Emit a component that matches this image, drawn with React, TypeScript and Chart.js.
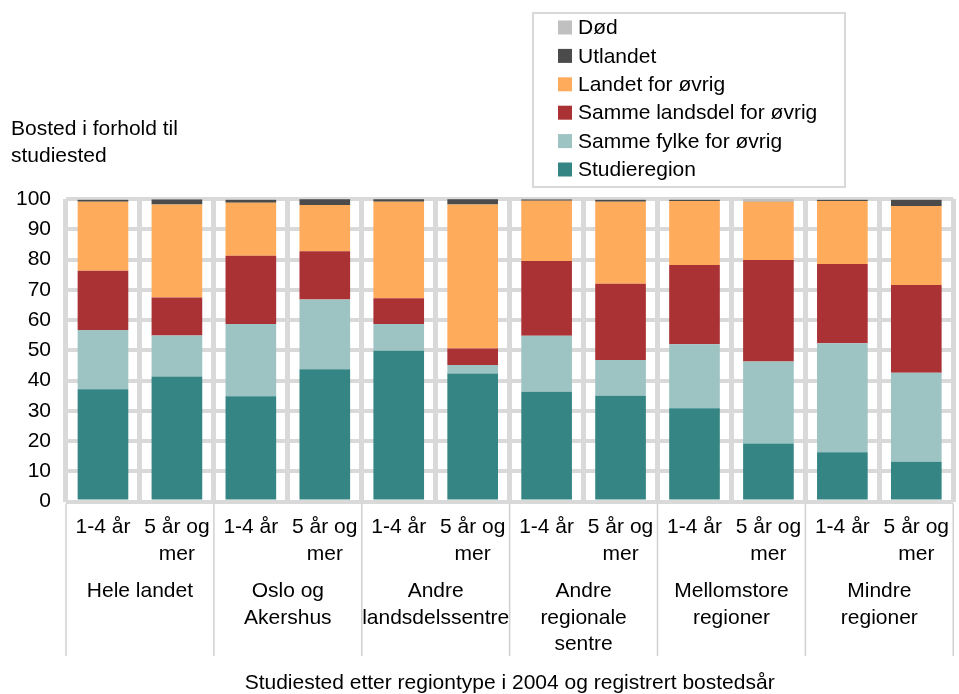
import { useEffect, useRef } from "react";
import { Chart, registerables } from "chart.js";

Chart.register(...registerables);

const FONT = "'Liberation Sans', Arial, sans-serif";

const subLabels: string[][] = [
  ["1-4 år"], ["5 år og", "mer"],
  ["1-4 år"], ["5 år og", "mer"],
  ["1-4 år"], ["5 år og", "mer"],
  ["1-4 år"], ["5 år og", "mer"],
  ["1-4 år"], ["5 år og", "mer"],
  ["1-4 år"], ["5 år og", "mer"],
];

const groupLabels: string[][] = [
  ["Hele landet"],
  ["Oslo og", "Akershus"],
  ["Andre", "landsdelssentre"],
  ["Andre", "regionale", "sentre"],
  ["Mellomstore", "regioner"],
  ["Mindre", "regioner"],
];

const yTitle = ["Bosted i forhold til", "studiested"];
const xTitle = "Studiested etter regiontype i 2004 og registrert bostedsår";

const studieregion = [37.1, 41.3, 34.8, 43.7, 49.8, 42.3, 36.3, 35.0, 30.8, 19.2, 16.3, 13.1];
const sammeFylke = [19.6, 13.6, 23.9, 23.1, 8.9, 2.8, 18.5, 11.8, 21.2, 27.1, 36.0, 29.5];
const sammeLandsdel = [19.6, 12.5, 22.5, 15.9, 8.5, 5.5, 24.7, 25.2, 26.2, 33.5, 26.2, 29.0];
const landetForOvrig = [22.8, 30.8, 17.6, 15.3, 31.9, 47.6, 19.9, 27.1, 21.1, 19.3, 20.8, 26.1];
const utlandet = [0.6, 1.6, 0.9, 1.9, 0.8, 1.7, 0.4, 0.6, 0.4, 0.1, 0.4, 2.0];
const dod = [0.3, 0.2, 0.3, 0.1, 0.1, 0.1, 0.2, 0.3, 0.3, 0.8, 0.3, 0.3];

const seriesNames = [
  "Studieregion",
  "Samme fylke for øvrig",
  "Samme landsdel for øvrig",
  "Landet for øvrig",
  "Utlandet",
  "Død",
];
const seriesColors = ["#358584", "#9dc3c3", "#ab3234", "#ffab5c", "#4b4b4b", "#c0c0c0"];
const seriesData = [studieregion, sammeFylke, sammeLandsdel, landetForOvrig, utlandet, dod];

const extrasPlugin = {
  id: "extras",
  afterDraw(chart: any) {
    const ctx = chart.ctx as CanvasRenderingContext2D;
    const x = chart.scales.x;
    const area = chart.chartArea;
    const step = x.getPixelForValue(1) - x.getPixelForValue(0);

    ctx.save();
    // group separators below axis
    ctx.strokeStyle = "#d0d0d0";
    ctx.lineWidth = 1.5;
    for (let g = 0; g <= groupLabels.length; g++) {
      const px = x.getPixelForValue(g * 2) - step / 2;
      ctx.beginPath();
      ctx.moveTo(px, area.bottom + 2);
      ctx.lineTo(px, 656);
      ctx.stroke();
    }

    // group labels
    ctx.fillStyle = "#000";
    ctx.font = `21px ${FONT}`;
    ctx.textAlign = "center";
    ctx.textBaseline = "middle";
    groupLabels.forEach((lines, g) => {
      const cx = (x.getPixelForValue(g * 2) + x.getPixelForValue(g * 2 + 1)) / 2;
      lines.forEach((t, i) => {
        ctx.fillText(t, cx, 591 + i * 26.8);
      });
    });

    // y axis title (horizontal, top-left)
    ctx.textAlign = "left";
    yTitle.forEach((t, i) => {
      ctx.fillText(t, 11, 129 + i * 27);
    });

    // legend box
    const bx = 533, by = 13, bw = 312, bh = 174;
    ctx.strokeStyle = "#d9d9d9";
    ctx.lineWidth = 2;
    ctx.strokeRect(bx, by, bw, bh);
    for (let k = 0; k < seriesNames.length; k++) {
      const idx = seriesNames.length - 1 - k;
      const cy = 27.5 + k * 28.4;
      ctx.fillStyle = seriesColors[idx];
      ctx.fillRect(558, cy - 7, 14, 14);
      ctx.fillStyle = "#000";
      ctx.fillText(seriesNames[idx], 578, cy + 1);
    }
    ctx.restore();
  },
};

export default function App() {
  const ref = useRef<HTMLCanvasElement | null>(null);

  useEffect(() => {
    if (!ref.current) return;
    const chart = new Chart(ref.current, {
      type: "bar",
      data: {
        labels: subLabels,
        datasets: seriesData.map((d, i) => ({
          label: seriesNames[i],
          data: d,
          backgroundColor: seriesColors[i],
          borderWidth: 0,
          categoryPercentage: 1,
          barPercentage: 0.685,
        })),
      },
      options: {
        animation: false,
        responsive: false,
        layout: { padding: { top: 199, left: 0, right: 0, bottom: 0 } },
        plugins: {
          legend: { display: false },
          tooltip: { enabled: false },
        },
        scales: {
          x: {
            stacked: true,
            afterFit: (s: any) => {
              s.height = 192.5;
            },
            grid: {
              offset: true,
              color: "#d9d9d9",
              lineWidth: 5,
              drawTicks: false,
            },
            border: { display: false },
            ticks: {
              autoSkip: false,
              maxRotation: 0,
              minRotation: 0,
              padding: 13,
              color: "#000",
              font: { family: FONT, size: 21, lineHeight: 1.25 },
            },
            title: {
              display: true,
              text: xTitle,
              color: "#000",
              font: { family: FONT, size: 21, lineHeight: 1.0 },
              padding: { top: 0, bottom: 0 },
            },
          },
          y: {
            stacked: true,
            min: 0,
            max: 100,
            afterFit: (s: any) => {
              s.width = 66;
            },
            grid: {
              color: "#d9d9d9",
              lineWidth: 4,
              drawTicks: false,
            },
            border: { display: false },
            ticks: {
              stepSize: 10,
              padding: 15,
              color: "#000",
              font: { family: FONT, size: 21 },
            },
          },
        },
      },
      plugins: [extrasPlugin],
    });
    return () => chart.destroy();
  }, []);

  return (
    <div
      style={{
        position: "absolute",
        left: 0,
        top: 0,
        width: 959,
        height: 694,
        overflow: "hidden",
        background: "#fff",
      }}
    >
      <canvas ref={ref} width={962} height={694} style={{ display: "block" }} />
    </div>
  );
}
